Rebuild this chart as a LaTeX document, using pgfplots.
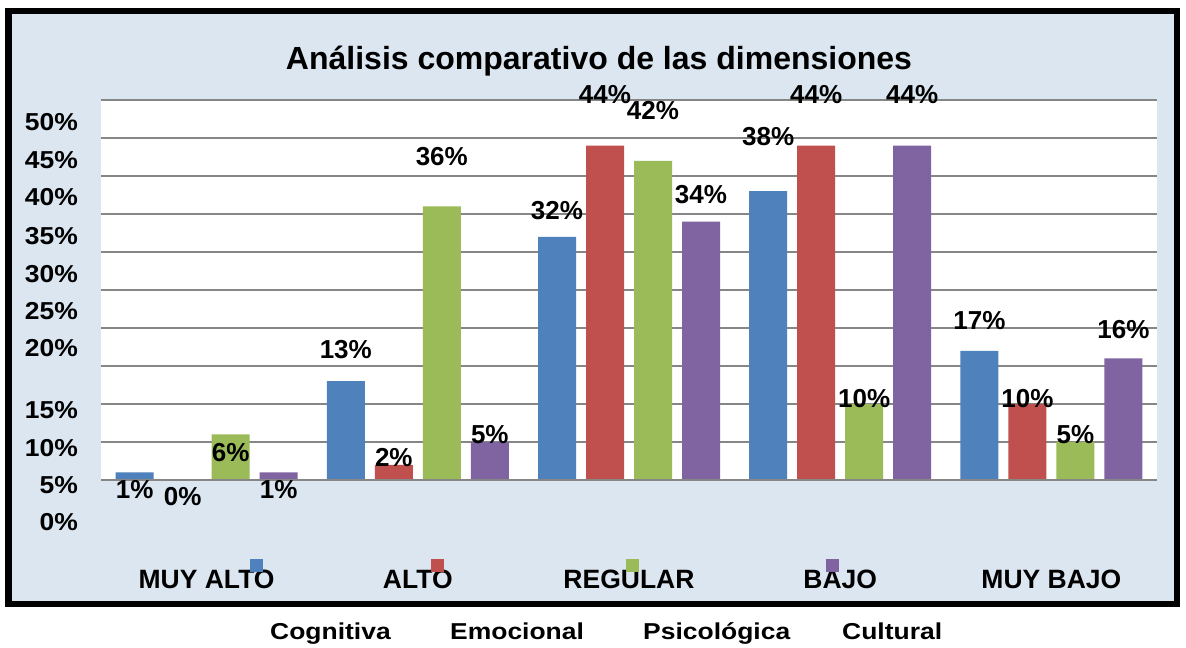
\documentclass[border=0pt]{standalone}
\usepackage{fontspec}
\setmainfont{Liberation Sans}
\newfontfamily\legfont[FakeStretch=1.15]{Liberation Sans}
\newfontfamily\tickfont[FakeStretch=1.08]{Liberation Sans}
\usepackage{pgfplots}
\pgfplotsset{compat=1.18}
\usepackage{pgfplotstable}
\definecolor{bgblue}{RGB}{220,230,241}
\definecolor{cog}{RGB}{79,129,189}
\definecolor{emo}{RGB}{192,80,77}
\definecolor{psi}{RGB}{155,187,89}
\definecolor{cul}{RGB}{128,100,162}
\definecolor{gridc}{RGB}{134,134,134}

% x = category, v = value (%), ly = baseline height of the value label
\pgfplotstableread{
x v ly
0 1 -2.37
1 13 16.05
2 32 34.34
3 38 43.95
4 17 19.74
}\cogt
\pgfplotstableread{
x v ly
0 0 -3.42
1 2 1.84
2 44 49.6
3 44 49.6
4 10 9.6
}\emot
\pgfplotstableread{
x v ly
0 6 2.37
1 36 41.32
2 42 47.37
3 10 9.6
4 5 4.74
}\psit
\pgfplotstableread{
x v ly
0 1 -2.37
1 5 4.74
2 34 36.32
3 44 49.6
4 16 18.68
}\cult

\pgfplotsset{
  vlab/.style={only marks, mark=*, mark size=0pt, draw=none, fill=none,
    nodes near coords={\pgfmathprintnumber{\pgfplotspointmeta}\%},
    point meta=explicit,
    every node near coord/.append style={anchor=base, inner sep=0pt, text=black,
      font=\fontsize{26bp}{26bp}\selectfont\bfseries}},
}

\begin{document}
\begin{tikzpicture}[x=1bp,y=1bp]
\path[use as bounding box] (0,0) rectangle (1186,648);
\fill[white] (0,0) rectangle (1186,648);
\fill[bgblue] (8.5,44) rectangle (1177,637);
\draw[black, line width=6.5bp] (8.5,44) rectangle (1177,637);
\fill[white] (101,168) rectangle (1157,548);
\node[anchor=base, inner sep=0pt, font=\fontsize{32bp}{32bp}\selectfont\bfseries] at (599,578) {Análisis comparativo de las dimensiones};

\begin{axis}[
  at={(101bp,122.4bp)}, anchor=south west,
  scale only axis, width=1056bp, height=425.6bp,
  xmin=-0.5, xmax=4.5, ymin=-6, ymax=50,
  clip=false,
  axis line style={draw=none},
  major tick length=0pt,
  /pgf/number format/assume math mode=true,
  xtick={0,1,2,3,4},
  xticklabels={MUY ALTO,ALTO,REGULAR,BAJO,MUY BAJO},
  xticklabel style={font=\fontsize{26.5bp}{26.5bp}\selectfont\bfseries, anchor=base, inner sep=0pt, yshift=-63.4bp},
  ytick={-5.5,-0.66,4.2,9.2,17.4,22.2,27.1,32.1,37.2,42.1,47.1},
  yticklabels={0\%,5\%,10\%,15\%,20\%,25\%,30\%,35\%,40\%,45\%,50\%},
  yticklabel style={font=\tickfont\fontsize{24.5bp}{24.5bp}\selectfont\bfseries, anchor=east, inner sep=0pt, xshift=-23bp},
  ymajorgrids=false,
  extra y ticks={0,5,10,15,20,25,30,35,40,45,50},
  extra y tick labels={},
  extra y tick style={ymajorgrids=true, major grid style={gridc, line width=1.8bp}},
]
\addplot[ybar, bar width=38bp, bar shift=-72bp, fill=cog, draw=none] table[x=x,y=v]{\cogt};
\addplot[ybar, bar width=38bp, bar shift=-24bp, fill=emo, draw=none] table[x=x,y=v]{\emot};
\addplot[ybar, bar width=38bp, bar shift=24bp, fill=psi, draw=none] table[x=x,y=v]{\psit};
\addplot[ybar, bar width=38bp, bar shift=72bp, fill=cul, draw=none] table[x=x,y=v]{\cult};
\draw[gridc, line width=1.8bp] (axis cs:-0.5,0) -- (axis cs:4.5,0);
\addplot[vlab] table[x expr=\thisrow{x}-0.3409, y=ly, meta=v]{\cogt};
\addplot[vlab] table[x expr=\thisrow{x}-0.1136, y=ly, meta=v]{\emot};
\addplot[vlab] table[x expr=\thisrow{x}+0.1136, y=ly, meta=v]{\psit};
\addplot[vlab] table[x expr=\thisrow{x}+0.3409, y=ly, meta=v]{\cult};
\end{axis}

\fill[cog] (250,76) rectangle (263,89);
\fill[emo] (431,76) rectangle (444,89);
\fill[psi] (626,76) rectangle (639,89);
\fill[cul] (826,76) rectangle (839,89);
\begin{scope}[every node/.style={anchor=base west, inner sep=0pt, font=\legfont\fontsize{23bp}{23bp}\selectfont\bfseries}]
\node at (270,8) {Cognitiva};
\node at (450,8) {Emocional};
\node at (643,8) {Psicológica};
\node at (842,8) {Cultural};
\end{scope}
\end{tikzpicture}
\end{document}
